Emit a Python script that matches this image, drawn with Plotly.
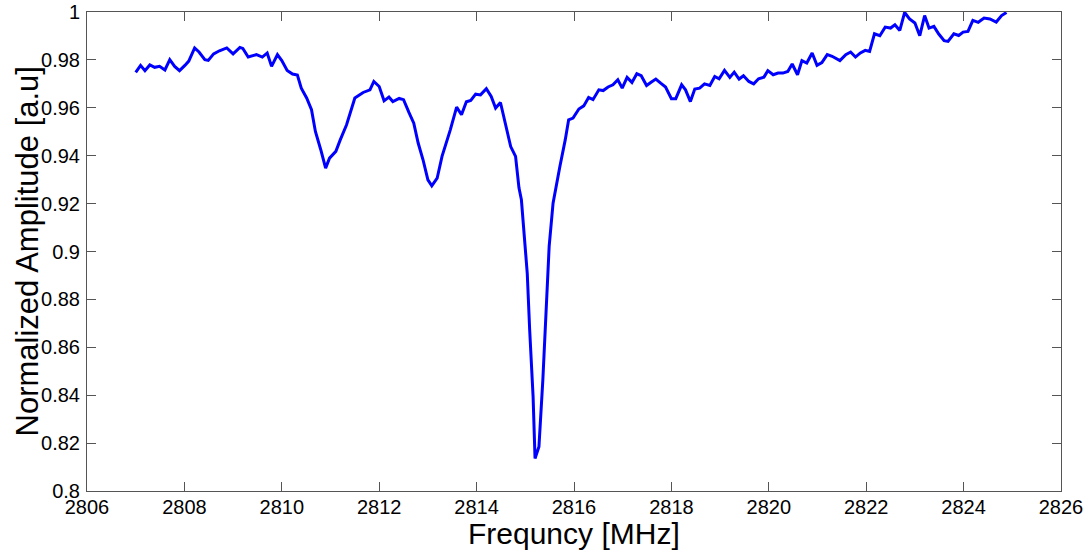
import plotly.graph_objects as go

# Measured transmission spectrum: frequency in MHz, normalized amplitude
freq_mhz = [
    2807.00, 2807.10, 2807.19, 2807.29, 2807.39, 2807.49, 2807.60, 2807.70, 2807.80, 2807.90,
    2808.01, 2808.09, 2808.21, 2808.30, 2808.42, 2808.49, 2808.60, 2808.72, 2808.87, 2809.00,
    2809.14, 2809.20, 2809.31, 2809.48, 2809.60, 2809.70, 2809.79, 2809.91, 2810.00, 2810.11,
    2810.22, 2810.32, 2810.40, 2810.51, 2810.61, 2810.69, 2810.80, 2810.90, 2810.98, 2811.11,
    2811.20, 2811.33, 2811.50, 2811.67, 2811.81, 2811.89, 2812.00, 2812.10, 2812.20, 2812.28,
    2812.41, 2812.50, 2812.61, 2812.71, 2812.80, 2812.90, 2813.00, 2813.08, 2813.19, 2813.29,
    2813.46, 2813.59, 2813.69, 2813.79, 2813.88, 2813.98, 2814.08, 2814.20, 2814.30, 2814.39,
    2814.49, 2814.60, 2814.70, 2814.80, 2814.87, 2814.92, 2814.99, 2815.04, 2815.09, 2815.16,
    2815.20, 2815.28, 2815.36, 2815.45, 2815.49, 2815.57, 2815.65, 2815.71, 2815.82, 2815.89,
    2815.98, 2816.10, 2816.20, 2816.30, 2816.39, 2816.51, 2816.60, 2816.70, 2816.80, 2816.90,
    2816.99, 2817.09, 2817.19, 2817.29, 2817.38, 2817.49, 2817.59, 2817.68, 2817.78, 2817.88,
    2818.00, 2818.09, 2818.21, 2818.29, 2818.39, 2818.48, 2818.58, 2818.68, 2818.79, 2818.89,
    2818.98, 2819.09, 2819.20, 2819.29, 2819.39, 2819.48, 2819.59, 2819.69, 2819.79, 2819.90,
    2819.98, 2820.09, 2820.19, 2820.29, 2820.39, 2820.48, 2820.59, 2820.68, 2820.78, 2820.89,
    2820.99, 2821.09, 2821.20, 2821.30, 2821.46, 2821.58, 2821.68, 2821.78, 2821.88, 2821.98,
    2822.07, 2822.17, 2822.28, 2822.39, 2822.50, 2822.59, 2822.69, 2822.79, 2822.89, 2823.00,
    2823.10, 2823.20, 2823.29, 2823.39, 2823.49, 2823.60, 2823.68, 2823.80, 2823.90, 2823.99,
    2824.09, 2824.19, 2824.30, 2824.42, 2824.54, 2824.67, 2824.78, 2824.88,
]

amplitude = [
    0.9748, 0.9777, 0.9755, 0.9779, 0.9769, 0.9773, 0.9758, 0.9801, 0.9773, 0.9755,
    0.9777, 0.9795, 0.9850, 0.9833, 0.9801, 0.9798, 0.9825, 0.9838, 0.9850, 0.9825,
    0.9852, 0.9848, 0.9812, 0.9822, 0.9812, 0.9829, 0.9773, 0.9822, 0.9797, 0.9756,
    0.9741, 0.9737, 0.9682, 0.9641, 0.9592, 0.9501, 0.9425, 0.9348, 0.9390, 0.9418,
    0.9466, 0.9529, 0.9641, 0.9664, 0.9675, 0.9710, 0.9689, 0.9629, 0.9645, 0.9626,
    0.9639, 0.9634, 0.9581, 0.9536, 0.9453, 0.9383, 0.9299, 0.9274, 0.9306, 0.9397,
    0.9508, 0.9603, 0.9571, 0.9625, 0.9631, 0.9657, 0.9654, 0.9680, 0.9647, 0.9599,
    0.9622, 0.9522, 0.9438, 0.9397, 0.9266, 0.9216, 0.9035, 0.8909, 0.8672, 0.8394,
    0.8136, 0.8185, 0.8463, 0.8812, 0.9021, 0.9202, 0.9299, 0.9355, 0.9466, 0.9550,
    0.9557, 0.9595, 0.9608, 0.9643, 0.9634, 0.9675, 0.9672, 0.9687, 0.9696, 0.9717,
    0.9682, 0.9727, 0.9706, 0.9742, 0.9734, 0.9693, 0.9708, 0.9720, 0.9703, 0.9687,
    0.9638, 0.9638, 0.9696, 0.9675, 0.9626, 0.9678, 0.9682, 0.9700, 0.9693, 0.9731,
    0.9721, 0.9756, 0.9727, 0.9749, 0.9720, 0.9734, 0.9710, 0.9700, 0.9721, 0.9728,
    0.9755, 0.9738, 0.9745, 0.9745, 0.9752, 0.9783, 0.9738, 0.9797, 0.9787, 0.9829,
    0.9777, 0.9789, 0.9822, 0.9815, 0.9797, 0.9822, 0.9833, 0.9812, 0.9829, 0.9840,
    0.9835, 0.9909, 0.9901, 0.9937, 0.9933, 0.9947, 0.9923, 0.9998, 0.9971, 0.9954,
    0.9901, 0.9985, 0.9933, 0.9940, 0.9908, 0.9880, 0.9877, 0.9909, 0.9902, 0.9916,
    0.9919, 0.9965, 0.9957, 0.9975, 0.9971, 0.9958, 0.9985, 0.9998,
]

x_ticks = [2806, 2808, 2810, 2812, 2814, 2816, 2818, 2820, 2822, 2824, 2826]
y_ticks = [0.8, 0.82, 0.84, 0.86, 0.88, 0.9, 0.92, 0.94, 0.96, 0.98, 1.0]
y_tick_text = ["0.8", "0.82", "0.84", "0.86", "0.88", "0.9", "0.92", "0.94", "0.96", "0.98", "1"]

font_family = "Liberation Sans, Arial, sans-serif"

fig = go.Figure()
fig.add_trace(go.Scatter(
    x=freq_mhz,
    y=amplitude,
    mode="lines",
    line=dict(color="#0000FF", width=3),
    showlegend=False,
))

axis_common = dict(
    showgrid=False,
    zeroline=False,
    showline=True,
    linecolor="#555555",
    linewidth=1,
    mirror="allticks",
    ticks="inside",
    ticklen=9,
    tickwidth=1,
    tickcolor="#555555",
    automargin=False,
    tickfont=dict(family=font_family, size=20, color="black"),
)

fig.update_xaxes(
    range=[2806, 2826],
    tickvals=x_ticks,
    ticktext=[str(v) for v in x_ticks],
    ticklabelstandoff=-2,
    **axis_common,
)
fig.update_yaxes(
    range=[0.8, 1.0],
    tickvals=y_ticks,
    ticktext=y_tick_text,
    ticklabelstandoff=2,
    **axis_common,
)

fig.add_annotation(
    text="Frequncy [MHz]",
    xref="paper", yref="paper",
    x=0.5, y=-0.0885,
    xanchor="center", yanchor="middle",
    showarrow=False,
    font=dict(family=font_family, size=30, color="black"),
)
fig.add_annotation(
    text="Normalized Amplitude [a.u]",
    xref="paper", yref="paper",
    x=-0.0616, y=0.5,
    xanchor="center", yanchor="middle",
    textangle=-90,
    showarrow=False,
    font=dict(family=font_family, size=31, color="black"),
)

fig.update_layout(
    width=1089,
    height=550,
    margin=dict(l=87, r=28, t=12, b=59),
    paper_bgcolor="white",
    plot_bgcolor="white",
)

fig.write_html("out.html")
